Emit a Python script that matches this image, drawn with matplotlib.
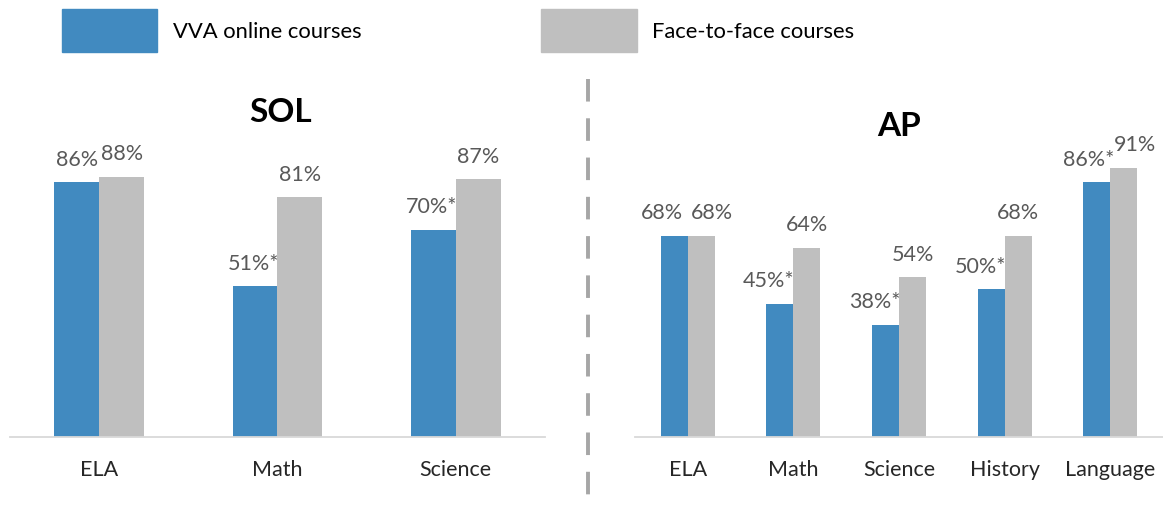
import matplotlib.pyplot as plt
from matplotlib.patches import Rectangle
from matplotlib.lines import Line2D
import numpy as np

plt.rcParams['font.family'] = ['Lato', 'DejaVu Sans']

BLUE = '#418AC0'
GRAY = '#BFBFBF'

# SOL panel
sol_cats = ["ELA", "Math", "Science"]
sol_online = [86, 51, 70]
sol_f2f = [88, 81, 87]
sol_online_lbl = ["86%", "51%*", "70%*"]
sol_f2f_lbl = ["88%", "81%", "87%"]

# AP panel
ap_cats = ["ELA", "Math", "Science", "History", "Language"]
ap_online = [68, 45, 38, 50, 86]
ap_f2f = [68, 64, 54, 68, 91]
ap_online_lbl = ["68%", "45%*", "38%*", "50%*", "86%*"]
ap_f2f_lbl = ["68%", "64%", "54%", "68%", "91%"]

W, H = 1163, 510
FS = 15.5
fig = plt.figure(figsize=(W / 100, H / 100), dpi=100)


def panel(rect, cats, online, f2f, on_lbl, f2_lbl, bw, nudge=None):
    ax = fig.add_axes(rect)
    x = np.arange(len(cats))
    ax.bar(x - bw / 2, online, bw, color=BLUE)
    ax.bar(x + bw / 2, f2f, bw, color=GRAY)
    nudge = nudge or {}
    for i in range(len(cats)):
        dl, dr = nudge.get(i, (0, 0))
        if on_lbl[i].endswith('*'):
            ax.annotate(on_lbl[i], (x[i], online[i]), xytext=(1 + dl, 12.5),
                        textcoords='offset points', ha='right', va='baseline',
                        fontsize=FS, color='#595959', annotation_clip=False)
        else:
            ax.annotate(on_lbl[i], (x[i] - bw / 2, online[i]), xytext=(dl, 12.5),
                        textcoords='offset points', ha='center', va='baseline',
                        fontsize=FS, color='#595959', annotation_clip=False)
        ax.annotate(f2_lbl[i], (x[i] + bw / 2, f2f[i]), xytext=(dr, 12.5),
                    textcoords='offset points', ha='center', va='baseline',
                    fontsize=FS, color='#595959', annotation_clip=False)
    ax.set_xlim(-0.5, len(cats) - 0.5)
    ax.set_ylim(0, 100)
    ax.set_xticks(x)
    ax.set_xticklabels(cats, fontsize=FS, color='#262626')
    ax.tick_params(axis='x', length=0, pad=16)
    ax.set_yticks([])
    for s in ['top', 'right', 'left']:
        ax.spines[s].set_visible(False)
    ax.spines['bottom'].set_color('#D9D9D9')
    ax.spines['bottom'].set_linewidth(1.3)
    ax.patch.set_alpha(0)
    return ax


base = 1 - 438 / H
hgt = 296 / H
panel([10 / W, base, 535 / W, hgt], sol_cats, sol_online, sol_f2f,
      sol_online_lbl, sol_f2f_lbl, 0.252)
panel([635 / W, base, 528 / W, hgt], ap_cats, ap_online, ap_f2f,
      ap_online_lbl, ap_f2f_lbl, 0.256, nudge={0: (-9, 8), 4: (2, 8)})

# titles
fig.text(281 / W, 1 - 113 / H, "SOL", ha='center', va='center',
         fontsize=24, fontweight='bold', color='black')
fig.text(899 / W, 1 - 127 / H, "AP", ha='center', va='center',
         fontsize=24, fontweight='bold', color='black')

# legend
fig.patches.append(Rectangle((62 / W, 1 - 53 / H), 95 / W, 43 / H,
                             transform=fig.transFigure, color=BLUE))
fig.patches.append(Rectangle((541 / W, 1 - 53 / H), 96 / W, 43 / H,
                             transform=fig.transFigure, color=GRAY))
fig.text(173 / W, 1 - 32 / H, "VVA online courses", ha='left', va='center',
         fontsize=15.8, color='black')
fig.text(652 / W, 1 - 32 / H, "Face-to-face courses", ha='left', va='center',
         fontsize=15.8, color='black')

# divider
fig.add_artist(Line2D([588 / W, 588 / W], [1 - 80 / H, 0], transform=fig.transFigure,
                      color='#A6A6A6', linewidth=2.8, linestyle=(0, (5.8, 4.3))))

fig.savefig('out.png', dpi=100)
